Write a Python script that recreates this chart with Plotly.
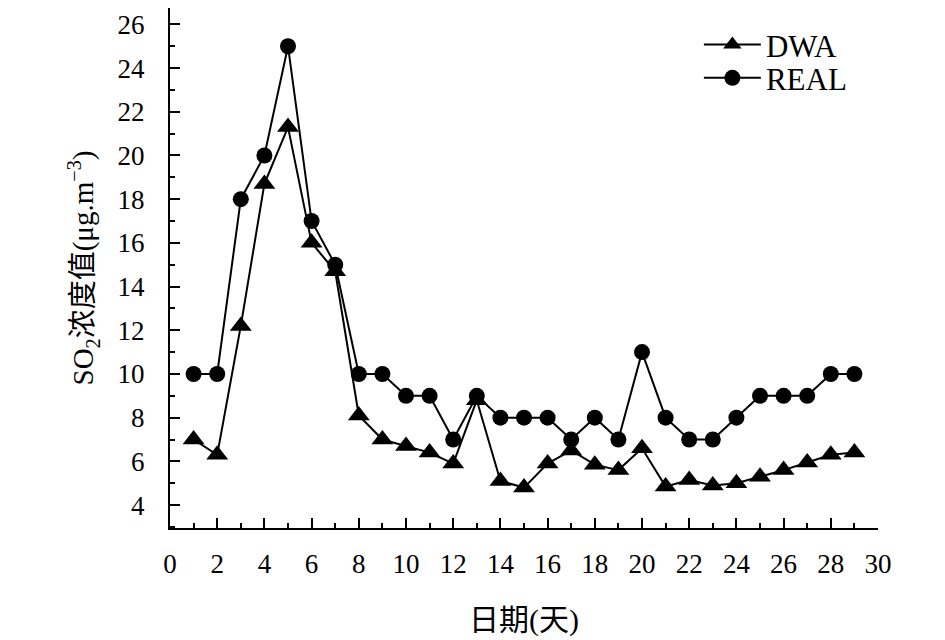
import plotly.graph_objects as go

days = list(range(1, 30))
dwa = [7.0, 6.3, 12.2, 18.7, 21.3, 16.0, 14.7, 8.1, 7.0, 6.7,
       6.4, 5.9, 8.8, 5.1, 4.8, 5.9, 6.5, 5.85, 5.6, 6.6,
       4.85, 5.15, 4.9, 5.0, 5.3, 5.6, 5.95, 6.3, 6.4]
real = [10, 10, 18, 20, 25, 17, 15, 10, 10, 9,
        9, 7, 9, 8, 8, 8, 7, 8, 7, 11,
        8, 7, 7, 8, 9, 9, 9, 10, 10]

serif = "Liberation Serif, Times New Roman, Noto Sans CJK SC, serif"

fig = go.Figure()
fig.add_trace(go.Scatter(x=days, y=dwa, name="DWA", mode="lines+markers",
                         line=dict(color="black", width=2),
                         marker=dict(symbol="triangle-up", size=19, color="black"),
                         legend="legend", showlegend=True))
fig.add_trace(go.Scatter(x=days, y=real, name="REAL", mode="lines+markers",
                         line=dict(color="black", width=2),
                         marker=dict(symbol="circle", size=16, color="black"),
                         legend="legend2", showlegend=True))

axis_common = dict(showgrid=False, zeroline=False, showline=True, linecolor="black",
                   linewidth=2, ticks="inside", ticklen=10, tickwidth=2, tickcolor="black",
                   tickfont=dict(family=serif, size=27, color="black"))

fig.update_xaxes(range=[0, 30], tick0=0, dtick=2, ticklabelstandoff=11,
                 minor=dict(ticks="inside", ticklen=5, tickwidth=2, tickcolor="black", dtick=1),
                 title=dict(text="日期(天)", font=dict(family=serif, size=30, color="black"),
                            standoff=31),
                 **axis_common)
fig.update_yaxes(range=[2.95, 26.75], tick0=4, dtick=2, ticklabelstandoff=18,
                 minor=dict(ticks="inside", ticklen=5, tickwidth=2, tickcolor="black",
                            tick0=3, dtick=1),
                 title=dict(text="SO<sub>2</sub>浓度值(μg.m<sup>−3</sup>)",
                            font=dict(family=serif, size=29, color="black"), standoff=15),
                 **axis_common)

legend_style = dict(xanchor="left", yanchor="middle", bgcolor="rgba(0,0,0,0)",
                    font=dict(family=serif, size=31, color="black"), itemwidth=57)
fig.update_layout(
    width=945, height=640,
    margin=dict(l=162, r=75, t=0, b=120),
    plot_bgcolor="white", paper_bgcolor="white",
    showlegend=True,
    legend=dict(x=0.747, y=0.929, **legend_style),
    legend2=dict(x=0.747, y=0.865, **legend_style),
)

fig.write_html("out.html")
